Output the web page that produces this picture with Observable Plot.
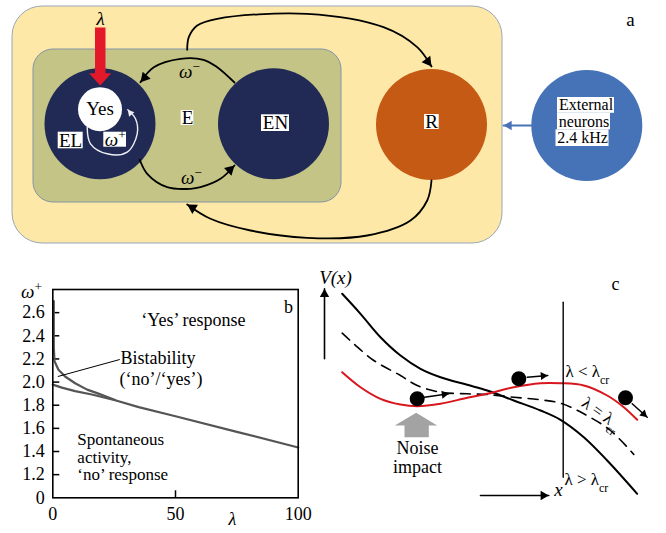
<!DOCTYPE html>
<html><head><meta charset="utf-8">
<script src="https://cdn.jsdelivr.net/npm/d3@7"></script>
<script src="https://cdn.jsdelivr.net/npm/@observablehq/plot@0.6"></script>
<style>
body{margin:0;background:#fff}
#wrap{position:relative;width:666px;height:533px;overflow:hidden}
#wrap svg{position:absolute;left:0;top:0}
</style></head>
<body><div id="wrap"></div>
<script>
// ---------- Panel a: network diagram (pixel coordinates) ----------
const outerBox = [{x1:12,y1:6,x2:502,y2:243}];
const innerBox = [{x1:33,y1:49,x2:341,y2:202}];
const nodeX = [99.5, 273, 431, 586.3];
const nodeY = [123.3, 123.3, 124, 125];
const nodeFill = ["#202a55", "#202a55", "#c55a15", "#4672b7"];
const yesCircle = [[99.5, 108.7]];
const labelBoxes = [
  [57.7,131.7,82.7,148.3],[103.3,131.7,126,146.7],[180.7,110,193.3,125],
  [261,114.3,289,131],[424,114,438.7,129],
  [557,97,614,112.8],[557,112.8,610,129.3],[555.5,129.3,608.5,146]
];
const arcTopSmall = [[234,82],[216.7,66.7],[203,59.3],[180,58.3],[153.3,66.7],[140,81.7]];
const arcBottomSmall = [[139.3,159.3],[146.7,173.3],[166.7,186.7],[190,188.3],[200,186.7],[220,178.3],[234,165]];
const arcTopBig = [[186.7,49.3],[188.3,36.7],[196.7,25],[216.7,18.3],[306.7,13.3],[383,26.7],[416.7,46.7],[431,66]];
const arcBottomBig = [[431,180],[426.7,200],[410,220],[366.7,235],[306.7,237.3],[250,230],[210,218.3],[186.7,204]];
const omegaLoop = [[86.7,126.7],[90,143.3],[106.7,153.3],[126.7,151.7],[136.7,133.3],[135,118.3],[127.3,109.3]];
const externalArrow = [[531,125],[503,125]];
const lambdaArrow = [[94.5,27],[105,27],[105,72.7],[110.7,72.7],[99.7,85],[88.5,72.7],[94.5,72.7]];
const textsA = [
  {x:99.5,y:108,t:"Yes"},{x:70,y:140,t:"EL"},{x:187,y:117.5,t:"E"},
  {x:275,y:122.7,t:"EN"},{x:431,y:121.5,t:"R"},
  {x:630,y:19,t:"a"}
];
const textsExternal = [
  {x:585.5,y:104.5,t:"External"},{x:583.5,y:121,t:"neurons"},{x:582,y:137.5,t:"2.4 kHz"}
];
const textsAItalic = [
  {x:100,y:18,t:"λ"},{x:114.7,y:139,t:"ω^{+}"},
  {x:189,y:71,t:"ω^{−}"},{x:191,y:177,t:"ω^{−}"},
  {x:31,y:291,t:"ω^{+}"}
];

// ---------- Panel c: potential schematic (pixel coordinates) ----------
const curveSolid = [[341.7,293.3],[360,313.3],[380,336.7],[400,355],[420,368.3],[440,376.7],[466.7,384.3],[486.7,390],[513.3,400],[540,410],[560,419.3],[583.3,436.7],[606.7,460],[636.7,493.3]];
const curveDashed = [[341.7,332.7],[353.3,343.3],[373.3,360],[400,375],[416.7,385],[440,391.7],[466.7,393.3],[486.7,394],[513.3,396.7],[540,399.3],[560,402.7],[583.3,413.3],[610,430],[633.3,454]];
const curveRed = [[341.7,371.7],[360,386.7],[380,398.3],[400,404],[416.7,405.7],[440,403.3],[466.7,397.3],[486.7,393.3],[513.3,386.7],[540,382.7],[560,382.7],[583.3,385],[606.7,395],[623.3,406.7],[636.7,419.3]];
const balls = [[416.7,398.3],[518.3,378.3],[625,397.3]];
const ballArrows = [[[424,396.7],[448.3,393.3]],[[526.7,376.7],[547.3,375]],[[631.7,403.3],[646.7,416.7]]];
const axisArrows = [[[324,358.3],[324,288.3]],[[480,495],[548.3,495]]];
const criticalLine = [[562.7,301.7],[562.7,476.7]];
const noiseArrow = [[404,436.7],[428.3,436.7],[428.3,425],[436.7,425],[415.7,412.3],[394.3,425],[404,425]];
const textsC = [{x:615,y:284,t:"c"},{x:417,y:448,t:"Noise"},{x:417,y:467,t:"impact"}];
const textsCItalic = [{x:335,y:277,t:"V(x)"},{x:558,y:489,t:"x"}];
const textsCStart = [{x:565,y:371,t:"λ < λ_{cr}"},{x:564,y:479,t:"λ > λ_{cr}"}];
const textsCRot = [{x:601,y:413,t:"λ = λ_{cr}"}];

// ---------- Panel b: phase diagram data ----------
const lamLower = [0,3.7,9.1,15.9,25.4,35,50,75,100];
const omLower  = [1.978,1.952,1.922,1.893,1.843,1.784,1.705,1.57,1.435];
const lamUpper = [0.4,0.4,0.7,2.3,5,9.1,14,18.6,25.4];
const omUpper  = [2.70,2.30,2.18,2.107,2.048,1.99,1.935,1.90,1.845];
const yTicks = [1.0,1.2,1.4,1.6,1.8,2.0,2.2,2.4,2.6];
const xTicks = [0,50,100];
const textsB = [
  {x:57.3,y:2.535,t:"‘Yes’ response",a:"middle"},
  {x:96,y:2.645,t:"b",a:"middle"},
  {x:27.6,y:2.204,t:"Bistability",a:"start"},
  {x:27.2,y:2.022,t:"(‘no’/‘yes’)",a:"start"}
];
const textsBLow = [
  {x:10,y:1.506,t:"Spontaneous"},
  {x:10,y:1.352,t:"activity,"},
  {x:10,y:1.203,t:"‘no’ response"}
];
const bistabilityPointer = [{x1:2.04,y1:2.048,x2:27.3,y2:2.195}];

// ---------- helpers ----------
const FONT = "Liberation Serif, Times New Roman, serif";
const px = d => d[0], py = d => d[1];
function head(pts, r) {
  const n = pts.length, [x2,y2] = pts[n-1], [x1,y1] = pts[n-2];
  const L = Math.hypot(x2-x1, y2-y1), ux = (x2-x1)/L, uy = (y2-y1)/L;
  const k = Math.sqrt(Math.PI*r*r/(Math.sqrt(3)*3));
  return {x: x2-ux*2*k, y: y2-uy*2*k, a: Math.atan2(ux,-uy)*180/Math.PI};
}
function arrowMarks(paths, color, width, r, curve) {
  const ms = paths.map(p => Plot.line(p, {x:px, y:py, stroke:color, strokeWidth:width, curve: curve || "catmull-rom"}));
  ms.push(Plot.dot(paths.map(p => head(p, r)), {x:"x", y:"y", rotate:"a", symbol:"triangle", r, fill:color, stroke:"none"}));
  return ms;
}
function richify(svg) {
  const NS = "http://www.w3.org/2000/svg";
  svg.querySelectorAll("text").forEach(el => {
    const nodes = el.querySelector("tspan") ? [...el.querySelectorAll("tspan")] : [el];
    nodes.forEach(node => {
      const s = node.textContent;
      if (!/[\^_]\{/.test(s)) return;
      node.textContent = "";
      const re = /([\^_])\{([^}]*)\}/g; let last = 0, m;
      while ((m = re.exec(s))) {
        if (m.index > last) node.appendChild(document.createTextNode(s.slice(last, m.index)));
        const t = document.createElementNS(NS, "tspan");
        t.setAttribute("baseline-shift", m[1] === "^" ? "super" : "sub");
        t.setAttribute("font-size", "70%");
        t.setAttribute("font-style", "normal");
        t.textContent = m[2];
        node.appendChild(t);
        last = re.lastIndex;
      }
      if (last < s.length) node.appendChild(document.createTextNode(s.slice(last)));
    });
  });
}

// ---------- canvas plot (panels a and c) ----------
const canvas = Plot.plot({
  width: 666, height: 533, margin: 0,
  x: {type: "identity", axis: null}, y: {type: "identity", axis: null},
  style: {background: "white", fontFamily: FONT},
  marks: [
    Plot.rect(outerBox, {x1:"x1", y1:"y1", x2:"x2", y2:"y2", fill:"#fde8a8", stroke:"#9aa6b8", strokeWidth:1, rx:30}),
    Plot.rect(innerBox, {x1:"x1", y1:"y1", x2:"x2", y2:"y2", fill:"#c4c486", stroke:"#8494a6", strokeWidth:1, rx:20}),
    Plot.dot(nodeX.map((x,i)=>({x, y:nodeY[i], f:nodeFill[i]})), {x:"x", y:"y", r:55.5, fill:"f", stroke:"none"}),
    Plot.dot(yesCircle, {x:px, y:py, r:22, fill:"white"}),
    Plot.rect(labelBoxes, {x1:d=>d[0], y1:d=>d[1], x2:d=>d[2], y2:d=>d[3], fill:"white"}),
    ...arrowMarks([arcTopSmall, arcBottomSmall, arcTopBig, arcBottomBig], "black", 1.8, 4),
    ...arrowMarks([omegaLoop], "#eef0f6", 1.4, 2.6),
    ...arrowMarks([externalArrow], "#4a72b8", 1.8, 3.5, "linear"),
    Plot.line(lambdaArrow, {x:px, y:py, fill:"#e3192a", stroke:"none", curve:"linear-closed"}),
    Plot.text(textsA, {x:"x", y:"y", text:"t", fontSize:19, fill:"black"}),
    Plot.text(textsExternal, {x:"x", y:"y", text:"t", fontSize:16, fill:"black"}),
    Plot.text(textsAItalic, {x:"x", y:"y", text:"t", fontSize:19, fontStyle:"italic", fill:"black"}),
    // panel c
    Plot.line(curveSolid, {x:px, y:py, stroke:"black", strokeWidth:2, curve:"catmull-rom"}),
    Plot.line(curveDashed, {x:px, y:py, stroke:"black", strokeWidth:1.6, strokeDasharray:"10,7", curve:"catmull-rom"}),
    Plot.line(curveRed, {x:px, y:py, stroke:"#d8161e", strokeWidth:2, curve:"catmull-rom"}),
    Plot.line(criticalLine, {x:px, y:py, stroke:"black", strokeWidth:1.4}),
    ...arrowMarks(axisArrows, "black", 1.6, 3.5, "linear"),
    Plot.dot(balls, {x:px, y:py, r:7.5, fill:"black"}),
    ...arrowMarks(ballArrows, "black", 1.5, 3, "linear"),
    Plot.line(noiseArrow, {x:px, y:py, fill:"#a3a3a3", stroke:"none", curve:"linear-closed"}),
    Plot.text(textsC, {x:"x", y:"y", text:"t", fontSize:18, fill:"black"}),
    Plot.text(textsCItalic, {x:"x", y:"y", text:"t", fontSize:19, fontStyle:"italic", fill:"black"}),
    Plot.text(textsCStart, {x:"x", y:"y", text:"t", fontSize:17, textAnchor:"start", fill:"black"}),
    Plot.text(textsCRot, {x:"x", y:"y", text:"t", fontSize:17, rotate:35, fill:"black"})
  ]
});
richify(canvas);

// ---------- panel b plot ----------
const bW = 320, bH = 263, mL = 52.3, mR = 22.3, mT = 19, mB = 35.7;
const innerW = bW - mL - mR, innerH = bH - mT - mB;
const lower = lamLower.map((l,i)=>({l, o:omLower[i]}));
const upper = lamUpper.map((l,i)=>({l, o:omUpper[i]}));
const panelB = Plot.plot({
  width: bW, height: bH, marginLeft: mL, marginRight: mR, marginTop: mT, marginBottom: mB,
  x: {domain: [0,100]}, y: {domain: [1.0, 2.8]},
  style: {background: "transparent", fontFamily: FONT, overflow: "visible"},
  marks: [
    Plot.axisY(yTicks, {tickSize:0, tickPadding:8, fontSize:18, fill:"black", label:null,
      tickFormat: d => d === 1 ? "0" : d.toFixed(1)}),
    Plot.axisX(xTicks, {tickSize:0, tickPadding:9, fontSize:18, fill:"black", label:null}),
    Plot.tickY(yTicks.slice(1), {y:d=>d, insetRight: innerW - 7, stroke:"black", strokeWidth:1.5}),
    Plot.tickX([50], {x:d=>d, insetTop: innerH - 7, stroke:"black", strokeWidth:1.5}),
    Plot.line(lower, {x:"l", y:"o", stroke:"#555", strokeWidth:2.2}),
    Plot.line(upper, {x:"l", y:"o", stroke:"#555", strokeWidth:2.2}),
    Plot.link(bistabilityPointer, {x1:"x1", y1:"y1", x2:"x2", y2:"y2", stroke:"black", strokeWidth:1}),
    Plot.text(textsB.filter(d=>d.a==="middle"), {x:"x", y:"y", text:"t", fontSize:18, fill:"black"}),
    Plot.text(textsB.filter(d=>d.a==="start"), {x:"x", y:"y", text:"t", fontSize:18, textAnchor:"start", fill:"black"}),
    Plot.text(textsBLow, {x:"x", y:"y", text:"t", fontSize:17, textAnchor:"start", fill:"black"}),
    Plot.text([{x:73.2, t:"λ"}], {x:"x", text:"t", frameAnchor:"bottom", dy:27, fontSize:18, fontStyle:"italic", fill:"black"}),
    Plot.frame({stroke:"black", strokeWidth:1.6})
  ]
});
panelB.style.left = "0px"; panelB.style.top = "270px";

const wrap = document.getElementById("wrap");
wrap.appendChild(canvas);
wrap.appendChild(panelB);
</script></body></html>
